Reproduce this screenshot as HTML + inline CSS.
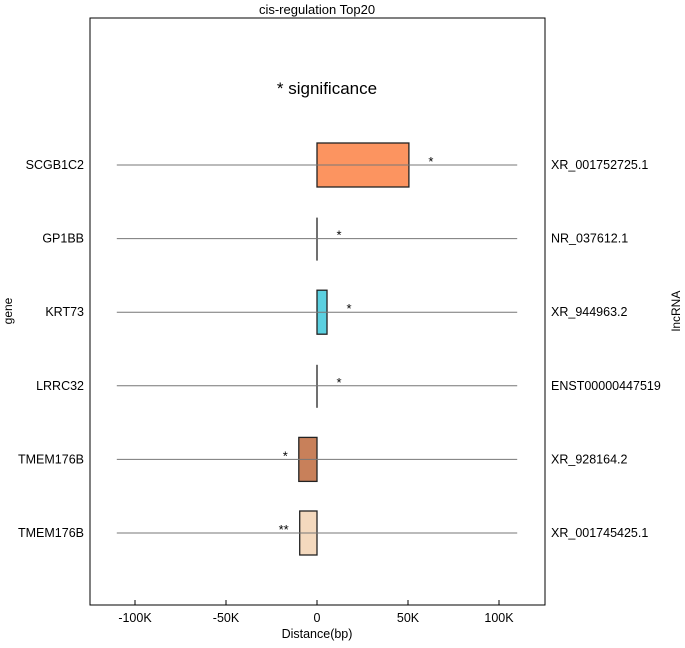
<!DOCTYPE html>
<html><head><meta charset="utf-8"><style>
body{margin:0;background:#fff}
svg text{font-family:"Liberation Sans",sans-serif;fill:#000}
</style></head><body>
<svg id="c" width="685" height="643">
<text x="317" y="14" font-size="13" text-anchor="middle">cis-regulation Top20</text>
<rect x="90" y="18" width="455" height="587" fill="none" stroke="#000" stroke-width="1"/>
<text x="327" y="94" font-size="17" text-anchor="middle">* significance</text>
<text x="317" y="638" font-size="12.5" text-anchor="middle">Distance(bp)</text>
<text transform="translate(12,311) rotate(-90)" font-size="12" text-anchor="middle">gene</text>
<text transform="translate(680,311) rotate(-90)" font-size="12" text-anchor="middle">lncRNA</text>
<g id="g"></g>
</svg>
<script>
const genes=["SCGB1C2","GP1BB","KRT73","LRRC32","TMEM176B","TMEM176B"];
const lncs=["XR_001752725.1","NR_037612.1","XR_944963.2","ENST00000447519","XR_928164.2","XR_001745425.1"];
const starts=[0,0,0,0,-10,-9.5];
const ends=[50.5,0,5.5,0,0,0];
const sig=["*","*","*","*","*","**"];
const colors=["#fc9460","#000","#5bd0e0","#000","#c8805a","#f4d9be"];
const xticks=[-100,-50,0,50,100];
const xtickLabels=["-100K","-50K","0","50K","100K"];
const ns="http://www.w3.org/2000/svg",g=document.getElementById('g');
const X=v=>317+v*1.82, Y=i=>165+i*73.6;
function mk(t,a){const e=document.createElementNS(ns,t);for(const k in a)e.setAttribute(k,a[k]);g.appendChild(e);return e;}
xticks.forEach((t,i)=>{
 const tk=mk('line',{x1:X(t),x2:X(t),y1:600,y2:605,stroke:'#000'});
 
 
 const tx=mk('text',{x:X(t),y:622,'font-size':12.5,'text-anchor':'middle'});tx.textContent=xtickLabels[i];
 
 
});
genes.forEach((gn,i)=>{
 const y=Y(i);
 const l1=mk('text',{x:84,y:y+4,'font-size':12.5,'text-anchor':'end'});l1.textContent=gn;
 
 
 const l2=mk('text',{x:551,y:y+4,'font-size':12.5});l2.textContent=lncs[i];
 
 
 if(ends[i]-starts[i]>0){
  const r=mk('rect',{x:X(starts[i]),y:y-22,width:X(ends[i])-X(starts[i]),height:44,fill:colors[i],stroke:'#222','stroke-width':1.3});
  
  
 } else {
  const r=mk('line',{x1:X(starts[i]),x2:X(starts[i]),y1:y-21,y2:y+22,stroke:'#222','stroke-width':1.3});
  
  
 }
 const hl=mk('line',{x1:X(-110),x2:X(110),y1:y,y2:y,stroke:'#777','stroke-width':1});
 
 
 const left=starts[i]<0;
 const sx=left?X(starts[i])-11:X(ends[i])+22;
 const s=mk('text',{x:sx,y:y+1,'font-size':13,'text-anchor':left?'end':'middle'});s.textContent=sig[i];
 
 
});
</script>
</body></html>
